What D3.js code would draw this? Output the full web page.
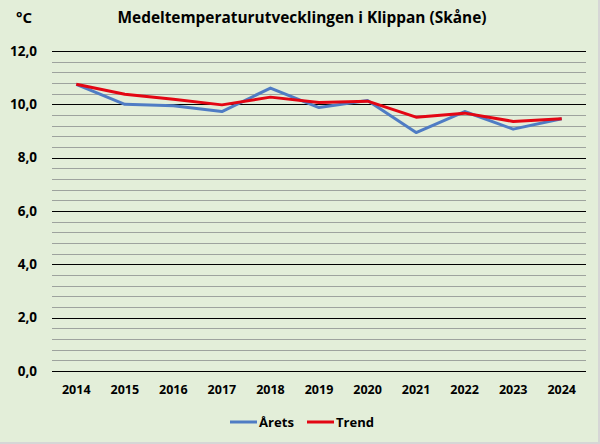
<!DOCTYPE html>
<html><head><meta charset="utf-8">
<script src="https://cdn.jsdelivr.net/npm/d3@7"></script>
<style>
html,body{margin:0;padding:0;background:#fff;}
svg{display:block;}
text{font-family:"Open Sans","Liberation Sans",sans-serif;font-weight:bold;fill:#000;}
</style></head>
<body><svg id="c" width="600" height="444"></svg>
<script>
const years = ["2014","2015","2016","2017","2018","2019","2020","2021","2022","2023","2024"];
const arets = [10.75,10.0,9.95,9.73,10.61,9.88,10.14,8.94,9.73,9.07,9.46];
const trend = [10.75,10.38,10.19,9.98,10.27,10.07,10.12,9.52,9.67,9.36,9.46];
const yTicks = [0,2,4,6,8,10,12];
const minorStep = 0.4;
const title = "Medeltemperaturutvecklingen i Klippan (Skåne)";
const unit = "°C";
const seriesNames = ["Årets","Trend"];
const colors = ["#4f7cc4","#e30613"];

const svg = d3.select("#c");
svg.append("rect").attr("x",0).attr("y",0).attr("width",600).attr("height",444).attr("fill","#d6d6d6");
svg.append("rect").attr("x",0).attr("y",0).attr("width",598).attr("height",442).attr("fill","#e3eed9");

const L=52,R=586,T=51,B=371;
const x = d3.scaleBand().domain(years).range([L,R]);
const y = d3.scaleLinear().domain([0,12]).range([B,T]);

// minor gridlines
const minor = d3.range(0,12.0001,minorStep).map(v=>+v.toFixed(2)).filter(v=>Math.abs(v/2-Math.round(v/2))>1e-6);
svg.append("g").selectAll("line").data(minor).join("line")
  .attr("x1",L).attr("x2",R).attr("y1",d=>Math.round(y(d))+0.5).attr("y2",d=>Math.round(y(d))+0.5)
  .attr("stroke","#9ea39e").attr("stroke-width",1.2);
// major gridlines
svg.append("g").selectAll("line").data(yTicks).join("line")
  .attr("x1",L).attr("x2",R).attr("y1",d=>Math.round(y(d))+0.5).attr("y2",d=>Math.round(y(d))+0.5)
  .attr("stroke","#000").attr("stroke-width",1.2);

// y labels
const fmt = v=>d3.format(".1f")(v).replace(".",",");
svg.append("g").selectAll("text").data(yTicks).join("text")
  .attr("x",37).attr("y",d=>y(d)).attr("dy","0.35em").attr("text-anchor","end")
  .attr("font-size",13.5).text(fmt);

// x labels
svg.append("g").selectAll("text").data(years).join("text")
  .attr("x",d=>x(d)+x.bandwidth()/2).attr("y",390).attr("dy","0.35em").attr("text-anchor","middle")
  .attr("font-size",12.5).text(d=>d);

// lines
const line = d3.line().x((d,i)=>x(years[i])+x.bandwidth()/2).y(d=>y(d));
[arets,trend].forEach((s,i)=>{
  svg.append("path").datum(s).attr("d",line).attr("fill","none")
    .attr("stroke",colors[i]).attr("stroke-width",3).attr("stroke-linejoin","round");
});

// title
svg.append("text").attr("x",302).attr("y",18).attr("dy","0.35em").attr("text-anchor","middle")
  .attr("font-size",15.5).attr("textLength",369).attr("lengthAdjust","spacingAndGlyphs").text(title);
svg.append("text").attr("x",24).attr("y",18).attr("dy","0.35em").attr("text-anchor","middle")
  .attr("font-size",15).text(unit);

// legend
const leg = [{x1:230,x2:257,tx:259,tw:35},{x1:307,x2:334,tx:336,tw:38}];
leg.forEach((l,i)=>{
  svg.append("line").attr("x1",l.x1).attr("x2",l.x2).attr("y1",422).attr("y2",422)
    .attr("stroke",colors[i]).attr("stroke-width",3);
  svg.append("text").attr("x",l.tx).attr("y",422).attr("dy","0.35em").attr("font-size",13)
    .attr("textLength",l.tw).attr("lengthAdjust","spacingAndGlyphs").text(seriesNames[i]);
});
</script></body></html>
